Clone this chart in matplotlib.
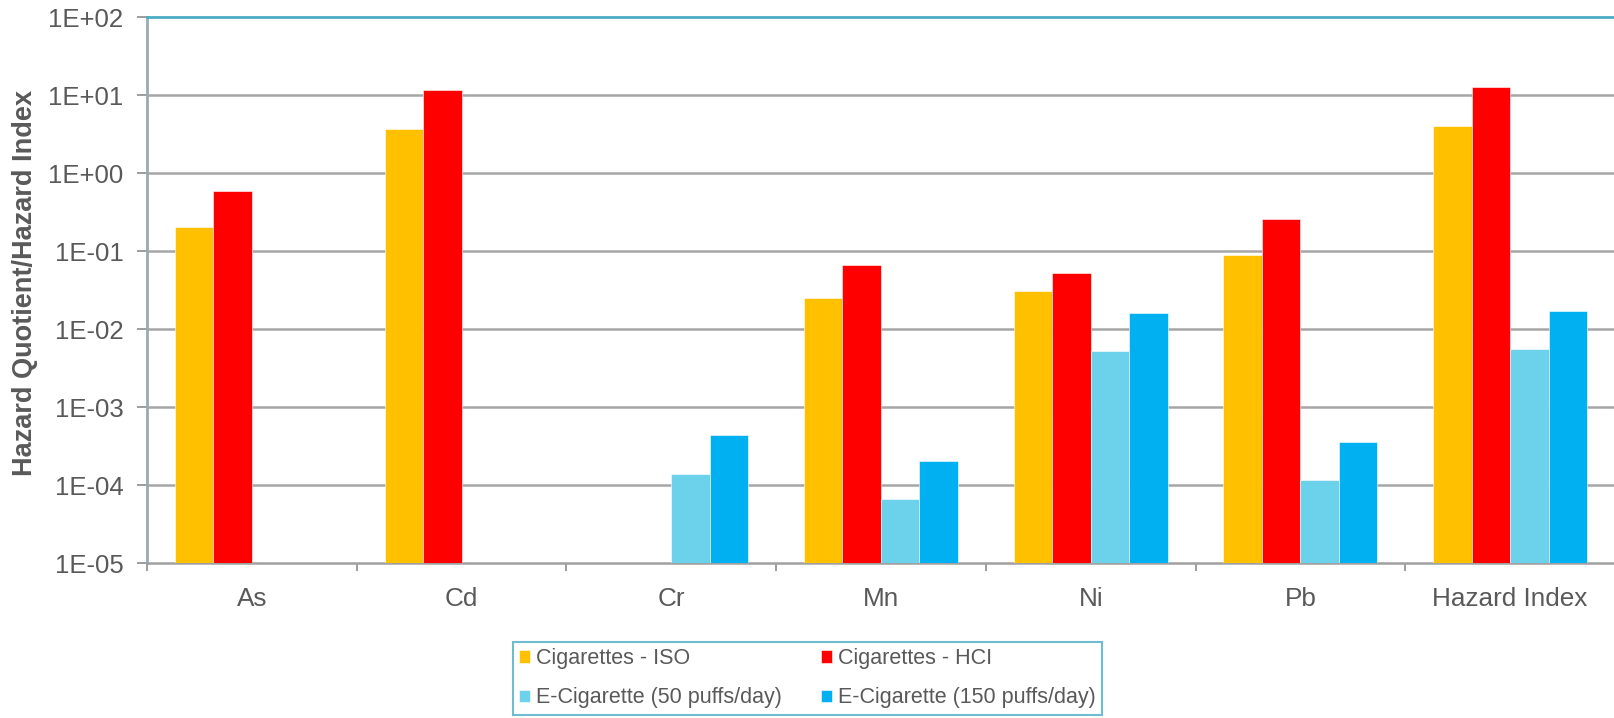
import numpy as np
import matplotlib
matplotlib.use("Agg")
import matplotlib.pyplot as plt
from matplotlib.ticker import FixedLocator, FixedFormatter

plt.rcParams['font.family'] = ['Liberation Sans', 'DejaVu Sans']

# data (log scale, nan = no bar)
categories = ["As", "Cd", "Cr", "Mn", "Ni", "Pb", "Hazard Index"]
cig_iso = [0.205, 3.66, np.nan, 0.0253, 0.0313, 0.0905, 4.01]
cig_hci = [0.59, 11.6, np.nan, 0.0668, 0.0524, 0.262, 12.7]
ecig_50 = [np.nan, np.nan, 1.41e-4, 6.6e-5, 5.2e-3, 1.18e-4, 5.55e-3]
ecig_150 = [np.nan, np.nan, 4.35e-4, 2.03e-4, 0.0161, 3.62e-4, 0.0171]

series = [
    ("Cigarettes - ISO", cig_iso, "#FFC000"),
    ("Cigarettes - HCI", cig_hci, "#FF0000"),
    ("E-Cigarette (50 puffs/day)", ecig_50, "#6CD2EC"),
    ("E-Cigarette (150 puffs/day)", ecig_150, "#00B0F0"),
]
ytick_labels = ["1E-05", "1E-04", "1E-03", "1E-02", "1E-01", "1E+00", "1E+01", "1E+02"]

text_col = "#595959"
fig = plt.figure(figsize=(16.15, 7.18), dpi=100)
ax = fig.add_axes([0.091, 0.2155, 0.909, 0.7605])

x = np.arange(len(categories))
w = 0.1835
bottom = 1e-5
handles = {}
for i, (name, vals, col) in enumerate(series):
    vals = np.array(vals, dtype=float)
    h = ax.bar(x + (i - 1.5) * w, vals - bottom, w, bottom=bottom, color=col,
               edgecolor="white", linewidth=0.4, label=name, zorder=3)
    handles[name] = h

ax.set_yscale("log")
ax.set_ylim(1e-5, 1e2)
ax.set_xlim(-0.5, len(categories) - 0.5)

yt = [10.0 ** k for k in range(-5, 3)]
ax.yaxis.set_major_locator(FixedLocator(yt))
ax.yaxis.set_major_formatter(FixedFormatter(ytick_labels))
ax.yaxis.set_minor_locator(FixedLocator([]))
for v in yt[1:-1]:
    ax.axhline(v, color="#A6A6A6", linewidth=1.8, zorder=1)

ax.set_xticks(x)
ax.set_xticklabels(categories)
ax.set_xticks(np.arange(len(categories) + 1) - 0.5, minor=True)
ax.tick_params(axis="x", which="major", length=0, pad=17, labelsize=18.8, labelcolor=text_col)
ax.tick_params(axis="x", which="minor", length=6, width=1.2, color="#8C8C8C")
ax.tick_params(axis="y", which="major", length=7, width=1.2, color="#8C8C8C",
               labelsize=18.5, labelcolor=text_col, pad=10)

ax.spines["right"].set_visible(False)
ax.spines["top"].set_color("#4BACC6")
ax.spines["top"].set_linewidth(2)
ax.spines["left"].set_color("#9AAAB4")
ax.spines["left"].set_linewidth(2)
ax.spines["bottom"].set_color("#A0A0A0")
ax.spines["bottom"].set_linewidth(1.8)

ax.set_ylabel("Hazard Quotient/Hazard Index", fontsize=19.5, fontweight="bold",
              color=text_col)
ax.yaxis.set_label_coords(-0.0743, 0.513)

order = [series[0][0], series[2][0], series[1][0], series[3][0]]
leg = fig.legend([handles[n] for n in order], order, loc="lower center",
                 bbox_to_anchor=(0.5, -0.0105), ncol=2, fontsize=15.5,
                 frameon=True, fancybox=False, handlelength=0.5, handleheight=0.5,
                 handletextpad=0.3, columnspacing=1.8, labelspacing=0.85,
                 borderpad=0.3, labelcolor=text_col)
leg.get_frame().set_edgecolor("#4BACC6")
leg.get_frame().set_linewidth(1.5)

fig.savefig("out.png", dpi=100)
